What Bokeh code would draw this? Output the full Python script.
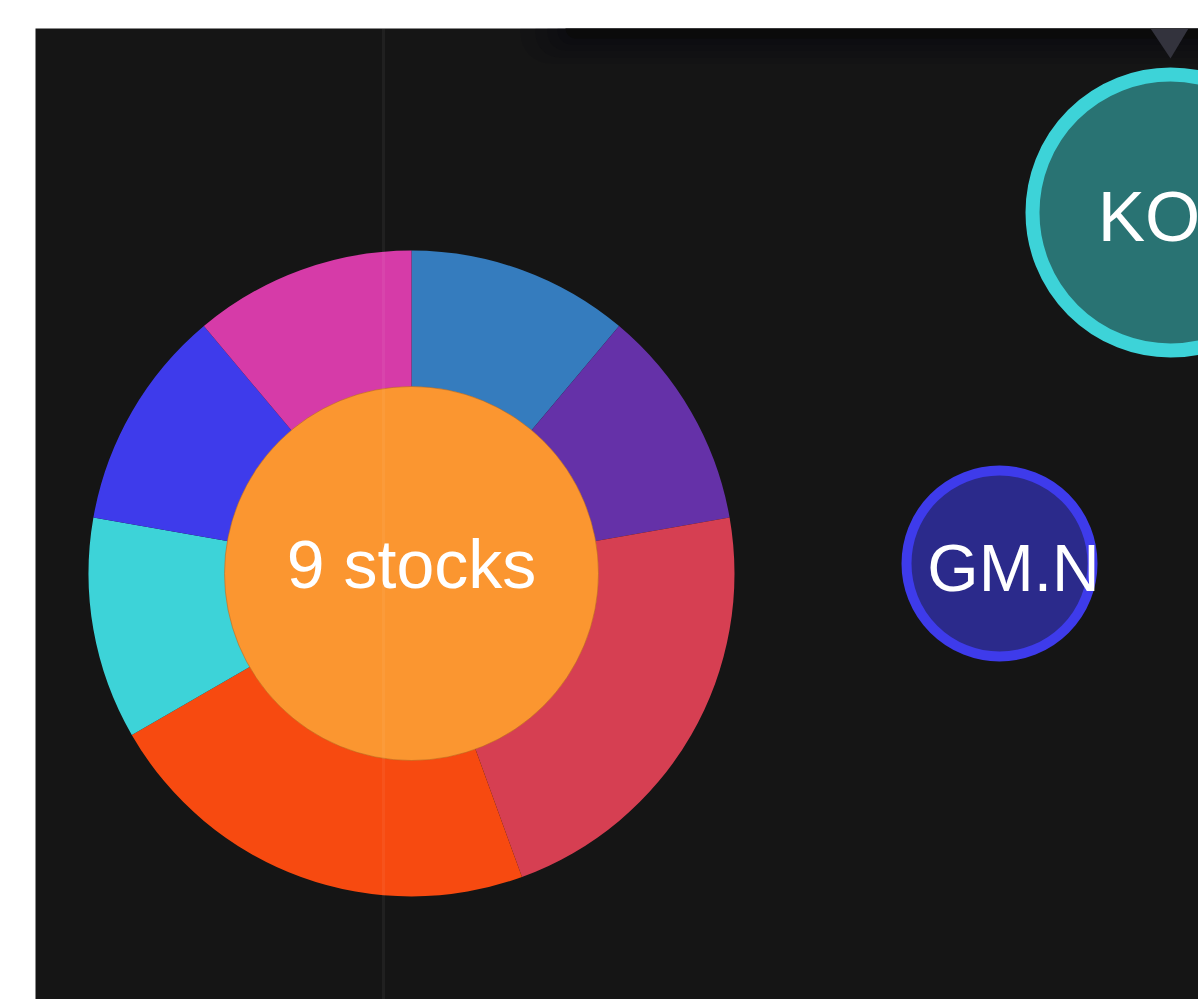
import numpy as np
from bokeh.plotting import figure
from bokeh.models import Range1d, Span, ColumnDataSource
from bokeh.core.properties import value
from bokeh.embed import file_html
from bokeh.resources import INLINE

# ---- data ----
cluster_x = [376]
cluster_y = [426]
cluster_label = ["9 stocks"]
sector_counts = [1, 1, 2, 2, 1, 1, 1]
sector_colors = ["#357CBE", "#6531A8", "#D63F52", "#F74A10", "#3DD3D8", "#3E3BEB", "#D63BA8"]

bubble_names = ["KO.N", "GM.N"]
bubble_x = [1135, 964]
bubble_y = [787, 436]
bubble_r = [138, 93]
bubble_fill = ["#297373", "#2B2A8B"]
bubble_line = ["#3DD3D8", "#3E3BEB"]
bubble_lw = [14, 10]
bubble_font = ["71px", "66px"]

grid_x = [348]

p = figure(width=1198, height=999, output_backend="svg", toolbar_location=None,
           x_range=Range1d(0, 1163), y_range=Range1d(0, 971),
           x_axis_location=None, y_axis_location=None,
           min_border_left=35, min_border_top=28, min_border_right=0, min_border_bottom=0)
p.background_fill_color = "#151515"
p.border_fill_color = "white"
p.outline_line_color = None
p.grid.visible = False

# donut
counts = np.array(sector_counts, dtype=float)
frac = counts / counts.sum() * 2 * np.pi
cum = np.concatenate([[0], np.cumsum(frac)])
starts = np.pi / 2 - cum[:-1]
ends = np.pi / 2 - cum[1:]
src = ColumnDataSource(dict(x=[cluster_x[0]] * len(counts), y=[cluster_y[0]] * len(counts),
                            s=starts, e=ends, c=sector_colors))
p.annular_wedge(x="x", y="y", inner_radius=180, outer_radius=323, start_angle="s", end_angle="e",
                direction="clock", fill_color="c", line_color=None, source=src)
p.circle(x=cluster_x, y=cluster_y, radius=187, fill_color="#FB9630", line_color="#B0661F",
         line_alpha=0.5, line_width=1)
p.text(x=cluster_x, y=[cluster_y[0] + 10], text=cluster_label, text_color="white",
       text_font=value("Liberation Sans"), text_font_size="68px",
       text_align="center", text_baseline="alphabetic")

# bubbles
for i in range(len(bubble_names)):
    p.circle(x=[bubble_x[i]], y=[bubble_y[i]], radius=bubble_r[i], fill_color=bubble_fill[i],
             line_color=bubble_line[i], line_width=bubble_lw[i])
    p.text(x=[bubble_x[i] + 14], y=[bubble_y[i] - 4], text=[bubble_names[i]],
           text_color="white", text_font=value("Liberation Sans"), text_font_size=bubble_font[i],
           text_align="center", text_baseline="alphabetic")

# grid line
for gx in grid_x:
    p.add_layout(Span(location=gx, dimension="height", line_color="white", line_alpha=0.05,
                      line_width=3))

# tooltip remnant at top
for l, b, r, a in [(485, 936, 30, 0.10), (500, 942, 24, 0.12), (512, 949, 18, 0.14), (522, 955, 14, 0.18)]:
    p.quad(left=l, right=1200, bottom=b, top=1000, fill_color="#05050F", fill_alpha=a,
           line_color=None, border_radius=r)
p.quad(left=530, right=1200, bottom=961, top=1000, fill_color="#0B0B0B", line_color=None,
       border_radius=10)
p.patch(x=[1115, 1153, 1135], y=[971, 971, 941], fill_color="#33333D", line_color=None)

open("out.html", "w").write(file_html(p, INLINE))
